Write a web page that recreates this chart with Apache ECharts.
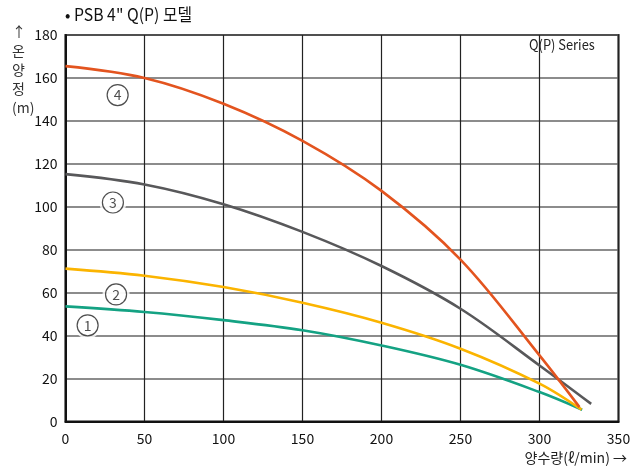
<!DOCTYPE html>
<html><head><meta charset="utf-8">
<script src="https://cdn.jsdelivr.net/npm/echarts@6/dist/echarts.min.js"></script>
<style>html,body{margin:0;padding:0;background:#fff}#c{width:635px;height:472px}</style>
</head><body><div id="c"></div>
<script>
const FONT = '"Noto Sans CJK KR","Noto Sans",sans-serif';
const title = '• PSB 4" Q(P) 모델';
const seriesLabel = 'Q(P) Series';
const yName = ['↑','온','양','정','(m)'];
const xName = '양수량(ℓ/min) →';
const xTicks = [0,50,100,150,200,250,300,350];
const yTicks = [0,20,40,60,80,100,120,140,160,180];
const curve1 = [[0,53.6],[50,51],[100,47.2],[150,42.5],[200,35.4],[250,26.4],[300,13.7],[327,5.5]];
const curve2 = [[0,71.2],[50,67.9],[100,62.6],[150,55.3],[200,46],[250,33.9],[300,17.6],[326.6,5.5]];
const curve3 = [[0,115.2],[50,110.4],[100,101.2],[150,88.3],[200,72.4],[250,52.5],[300,26.1],[332.7,8.2]];
const curve4 = [[0,165.5],[50,160],[100,148],[150,130.7],[200,107.4],[250,75.4],[300,30.8],[325.3,6.7]];
const curveNames = ['1','2','3','4'];
const labelPos = [[14,44.8],[32,59.2],[30,102],[33,152]];
const colors = ['#14a283','#fbb400','#58585a','#e3541f'];

const chart = echarts.init(document.getElementById('c'), null, {renderer:'canvas'});
const curves = [curve1,curve2,curve3,curve4];
const series = curves.map((d,i)=>({
  type:'line', data:d, smooth:0.35, symbol:'none', z:3,
  lineStyle:{color:colors[i], width:2.6}
}));
series.push({
  type:'scatter', data:labelPos, symbol:'circle', symbolSize:27, z:4, silent:true,
  itemStyle:{color:'#fff', borderWidth:0}
});
series.push({
  type:'scatter', data:labelPos.map((p,i)=>({value:p, name:curveNames[i]})), symbol:'circle', symbolSize:21, z:5, silent:true,
  itemStyle:{color:'#fff', borderColor:'#222', borderWidth:1.2},
  label:{show:true, position:'inside', formatter:p=>p.name, color:'#222', fontSize:14, fontFamily:FONT}
});
chart.setOption({
  animation:false,
  grid:{left:65.5, right:16.5, top:35, bottom:50.5, show:true, borderColor:'#111', borderWidth:2, backgroundColor:'transparent'},
  xAxis:{type:'value', min:0, max:350, interval:50,
    axisLine:{show:true, lineStyle:{color:'#111', width:2}}, axisTick:{show:false},
    axisLabel:{color:'#111', fontSize:14, fontFamily:FONT, margin:10, formatter:v=>xTicks.includes(v)?String(v):''},
    splitLine:{show:true, lineStyle:{color:'#222', width:1.2}}},
  yAxis:{type:'value', min:0, max:180, interval:20,
    axisLine:{show:true, lineStyle:{color:'#111', width:2}}, axisTick:{show:false},
    axisLabel:{color:'#111', fontSize:14, fontFamily:FONT, margin:8, formatter:v=>yTicks.includes(v)?String(v):''},
    splitLine:{show:true, lineStyle:{color:'#666', width:1.6}}},
  graphic:[
    {type:'text', x:65, y:6, scaleX:0.93, style:{text:title, fontSize:17, fontFamily:FONT, fill:'#111'}},
    {type:'text', x:529, y:38, scaleX:0.92, style:{text:seriesLabel, fontSize:14, fontFamily:FONT, fill:'#222'}},
    {type:'text', left:12, top:22, style:{text:yName.join('\n'), fontSize:14, lineHeight:19, align:'center', fontFamily:FONT, fill:'#333'}},
    {type:'text', right:8, top:451, style:{text:xName, fontSize:14, fontFamily:FONT, fill:'#222'}}
  ],
  series
});
</script></body></html>
